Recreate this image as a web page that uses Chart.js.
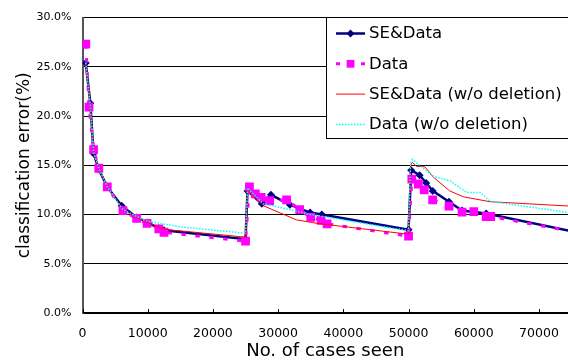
<!DOCTYPE html>
<html>
<head>
<meta charset="utf-8">
<script src="https://cdn.jsdelivr.net/npm/chart.js@4"></script>
<style>
	body { margin: 0; background: #fff; }
	#wrap { width: 568px; height: 363px; position: relative; }
</style>
</head>
<body>
<div id="wrap"><canvas id="error_chart"></canvas></div>
<script>
// series values (x = cases seen, y = classification error in %)
const seDataX = [500, 1200, 1700, 2500, 3800, 6000, 8300, 10000, 11700, 12500, 25000, 25300, 27500, 28900, 31800, 34900, 36700, 50000, 50400, 51700, 52700, 53700, 56200, 58200, 61900, 75000]
const seDataY = [25.4, 21.3, 16.2, 14.6, 12.8, 10.9, 9.7, 9.2, 8.6, 8.4, 7.5, 12.4, 11.1, 12.0, 11.0, 10.2, 10.0, 8.45, 14.5, 14.0, 13.2, 12.4, 11.3, 10.4, 10.1, 8.3]

const dataX = [500, 1000, 1700, 2500, 3800, 6200, 8300, 9900, 11700, 12500, 25000, 25600, 26500, 27400, 28700, 31300, 33300, 35000, 36600, 37500, 50000, 50500, 51500, 52400, 53700, 56200, 58200, 60000, 61900, 62600, 75000]
const dataY = [27.3, 20.9, 16.6, 14.7, 12.8, 10.4, 9.6, 9.1, 8.55, 8.2, 7.3, 12.8, 12.1, 11.75, 11.4, 11.5, 10.5, 9.7, 9.4, 9.06, 7.8, 13.6, 13.1, 12.5, 11.5, 10.85, 10.25, 10.3, 9.8, 9.8, 8.3]

const seNoDelX = [500, 1200, 1700, 2500, 3800, 6200, 8300, 10000, 12500, 25000, 25300, 27700, 32800, 36000, 50000, 50300, 50600, 51200, 52500, 53800, 56300, 58400, 62500, 75000]
const seNoDelY = [25.4, 21.0, 16.3, 14.7, 12.8, 10.5, 9.7, 9.2, 8.5, 7.7, 12.5, 10.9, 9.46, 9.1, 8.0, 15.0, 15.3, 14.9, 14.85, 13.8, 12.4, 11.8, 11.3, 10.85]

const dataNoDelX = [500, 1200, 1700, 2500, 3800, 6200, 8300, 10000, 15000, 25000, 25300, 27700, 31800, 35000, 50000, 50300, 50600, 51700, 53800, 56400, 58900, 61000, 62500, 75000]
const dataNoDelY = [25.4, 21.0, 16.3, 14.7, 12.8, 10.5, 9.8, 9.3, 8.75, 8.1, 12.7, 11.1, 10.5, 10.0, 8.35, 15.2, 15.6, 15.0, 13.9, 13.4, 12.25, 12.25, 11.35, 10.15]

const seriesNames = ['SE&Data', 'Data', 'SE&Data (w/o deletion)', 'Data (w/o deletion)']

// tick values
const xTicks = [0, 10000, 20000, 30000, 40000, 50000, 60000, 70000]
const yTicks = [0, 5, 10, 15, 20, 25, 30]

// axis range
const X_MAX = 74450
const Y_MAX = 30

const toPoints = (xs, ys) => xs.map((x, i) => ({ x: x, y: ys[i] }))
// hide markers that fall past the right edge
const markerSize = r => ctx => (ctx.raw && ctx.raw.x > X_MAX ? 0 : r)

const FONT = '"DejaVu Sans", sans-serif'

// small tick marks pointing up into the plot from the x axis
const innerTicks = {
	id: 'innerTicks',
	afterDraw(chart) {
		const ctx = chart.ctx
		const xs = chart.scales.x
		const bottom = chart.chartArea.bottom
		ctx.save()
		ctx.strokeStyle = '#000'
		ctx.lineWidth = 1
		xs.ticks.forEach(t => {
			const px = Math.round(xs.getPixelForValue(t.value)) + 0.5
			ctx.beginPath()
			ctx.moveTo(px, bottom)
			ctx.lineTo(px, bottom - 4)
			ctx.stroke()
		})
		ctx.restore()
	},
}

// legend drawn inside the plot, like the original
const boxLegend = {
	id: 'boxLegend',
	afterDraw(chart) {
		const ctx = chart.ctx
		ctx.save()
		ctx.fillStyle = '#fff'
		ctx.fillRect(326.5, 17.5, 260, 121)
		ctx.strokeStyle = '#000'
		ctx.lineWidth = 1
		ctx.strokeRect(326.5, 17.5, 260, 121)

		chart.data.datasets.forEach((ds, i) => {
			const y = 33.5 + i * 30.3
			ctx.strokeStyle = ds.borderColor
			ctx.lineWidth = ds.borderWidth
			ctx.setLineDash(ds.legendDash || [])
			ctx.beginPath()
			ctx.moveTo(336, y)
			ctx.lineTo(365, y)
			ctx.stroke()
			ctx.setLineDash([])
			if (ds.legendMarker) {
				ctx.fillStyle = ds.pointBackgroundColor
				Chart.helpers.drawPoint(ctx, { pointStyle: ds.pointStyle, radius: ds.legendMarker, rotation: 0, borderWidth: 0 }, 350.5, y)
			}
			ctx.fillStyle = '#000'
			ctx.font = '16.5px ' + FONT
			ctx.textBaseline = 'middle'
			ctx.textAlign = 'left'
			ctx.fillText(ds.label, 369, y + 0.5)
		})
		ctx.restore()
	},
}

const options = {
	type: 'line',
	data: {
		datasets: [
			{
				label: seriesNames[0],
				data: toPoints(seDataX, seDataY),
				borderColor: '#000080',
				borderWidth: 2.5,
				pointStyle: 'rectRot',
				pointRadius: markerSize(4),
				pointBackgroundColor: '#000080',
				pointBorderWidth: 0,
				legendMarker: 4,
				order: 4,
			},
			{
				label: seriesNames[1],
				data: toPoints(dataX, dataY),
				borderColor: '#FF00FF',
				borderWidth: 3,
				borderDash: [4.5, 9.5],
				legendDash: [4, 8.5],
				pointStyle: 'rect',
				pointRadius: markerSize(6.2),
				pointBackgroundColor: '#FF00FF',
				pointBorderWidth: 0,
				legendMarker: 5.5,
				order: 3,
			},
			{
				label: seriesNames[2],
				data: toPoints(seNoDelX, seNoDelY),
				borderColor: '#FF0000',
				borderWidth: 1,
				pointRadius: 0,
				order: 2,
			},
			{
				label: seriesNames[3],
				data: toPoints(dataNoDelX, dataNoDelY),
				borderColor: '#00FFFF',
				borderWidth: 1.5,
				borderDash: [1.5, 1.5],
				legendDash: [1.5, 1.5],
				pointRadius: 0,
				order: 1,
			},
		],
	},
	options: {
		responsive: true,
		maintainAspectRatio: false,
		animation: false,
		tension: 0,
		layout: { autoPadding: false, padding: { top: 16, right: 0, bottom: 0, left: 0 } },
		plugins: {
			legend: { display: false },
			tooltip: { enabled: false },
		},
		scales: {
			x: {
				type: 'linear',
				min: 0,
				max: X_MAX,
				afterFit: scale => {
					scale.height = 50
					scale.paddingLeft = 0
					scale.paddingRight = 0
				},
				afterBuildTicks: scale => { scale.ticks = xTicks.map(v => ({ value: v })) },
				grid: { display: false, drawTicks: false },
				border: { display: true, color: '#000', width: 1.5 },
				ticks: {
					autoSkip: false,
					padding: 13,
					color: '#000',
					font: { family: FONT, size: 12.5 },
					maxRotation: 0,
					callback: v => String(v),
				},
				title: {
					display: true,
					text: 'No. of cases seen',
					color: '#000',
					font: { family: FONT, size: 18 },
					padding: { top: 0, bottom: 0.5 },
				},
			},
			y: {
				min: 0,
				max: Y_MAX,
				afterFit: scale => { scale.width = 82.5 },
				afterBuildTicks: scale => { scale.ticks = yTicks.map(v => ({ value: v })) },
				grid: { color: '#000', lineWidth: 1, drawTicks: false },
				border: { display: true, color: '#555', width: 2 },
				ticks: {
					autoSkip: false,
					padding: 11,
					color: '#000',
					font: { family: FONT, size: 11 },
					callback: v => v.toFixed(1) + '%',
				},
				title: {
					display: true,
					text: 'classification error(%)',
					color: '#000',
					font: { family: FONT, size: 17 },
					padding: { top: 14.5, bottom: 0 },
				},
			},
		},
	},
	plugins: [innerTicks, boxLegend],
}

const ctx = document.getElementById('error_chart')
const errorChart = new Chart(ctx, options)
</script>
</body>
</html>
